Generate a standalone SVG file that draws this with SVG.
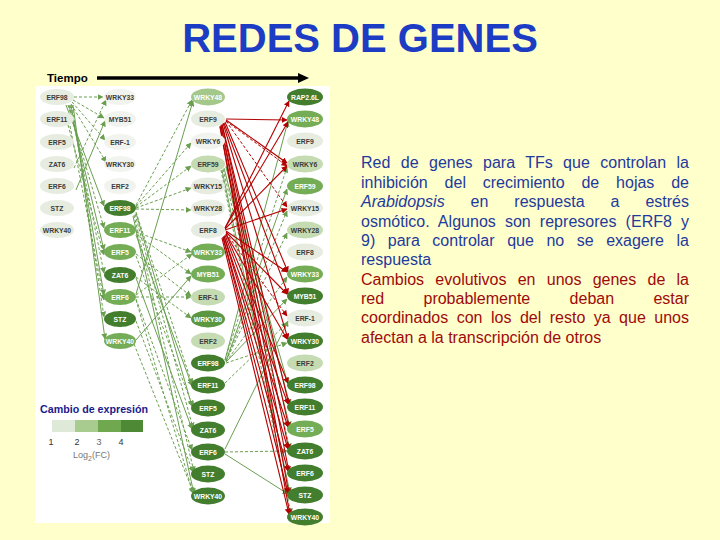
<svg xmlns="http://www.w3.org/2000/svg" width="720" height="540" viewBox="0 0 720 540">
<defs>
<style>
.nt{font-family:"Liberation Sans",Arial,sans-serif;font-size:6.8px;font-weight:bold;text-anchor:middle}
.k{fill:#3c3c3c}.w{fill:#ffffff}
.vl{fill:#e6ece0}.wh{fill:#f1f4ee}.l{fill:#c5dbb2}.lm{fill:#a4c78a}.m{fill:#74ad55}.md{fill:#5a9740}.d{fill:#437e2e}
.gs{stroke:#6a9f50;stroke-width:1;fill:none;marker-end:url(#ag)}
.gd{stroke:#6a9f50;stroke-width:1;stroke-dasharray:3 2;fill:none;marker-end:url(#ag)}
.rs{stroke:#b30000;stroke-width:1.1;fill:none;marker-end:url(#ar)}
.rd{stroke:#b30000;stroke-width:1;stroke-dasharray:3 2;fill:none;marker-end:url(#ar)}
.body{font-family:"Liberation Sans",Arial,sans-serif;font-size:16px}
.blue{fill:#1e3a9c}.red{fill:#9e0a0a}
</style>
<marker id="ag" viewBox="0 0 10 10" refX="9" refY="5" markerWidth="6" markerHeight="6" markerUnits="userSpaceOnUse" orient="auto"><path d="M0,0 L10,5 L0,10 z" fill="#6a9f50"/></marker>
<marker id="ar" viewBox="0 0 10 10" refX="9" refY="5" markerWidth="6" markerHeight="6" markerUnits="userSpaceOnUse" orient="auto"><path d="M0,0 L10,5 L0,10 z" fill="#b30000"/></marker>
<marker id="arb" viewBox="0 0 10 10" refX="9" refY="5" markerWidth="10" markerHeight="10" markerUnits="userSpaceOnUse" orient="auto"><path d="M0,0 L10,5 L0,10 z" fill="#c00000"/></marker>
</defs>
<rect x="0" y="0" width="720" height="540" fill="#ffffcc"/>
<text x="360" y="52" text-anchor="middle" font-family="Liberation Sans, Arial, sans-serif" font-size="40" font-weight="bold" fill="#1c3cc4">REDES DE GENES</text>
<g id="tiempo">
<text x="47" y="82" font-family="Liberation Sans, Arial, sans-serif" font-size="11.5" font-weight="bold" fill="#000">Tiempo</text>
<line x1="97" y1="78" x2="300" y2="78" stroke="#000" stroke-width="3.5"/>
<polygon points="298,73 309,78 298,83" fill="#000"/>
</g>
<rect x="35" y="86" width="295" height="437" fill="#ffffff"/>
<g id="connectors">
<line class="gd" x1="74" y1="97" x2="103" y2="97"/>
<line class="gd" x1="73" y1="100" x2="104" y2="118"/>
<line class="gd" x1="72" y1="102" x2="105" y2="140"/>
<line class="gd" x1="71" y1="104" x2="106" y2="162"/>
<line class="gs" x1="66" y1="105" x2="104" y2="206"/>
<line class="gd" x1="68" y1="105" x2="104" y2="228"/>
<line class="gs" x1="69" y1="105" x2="104" y2="250"/>
<line class="gd" x1="70" y1="105" x2="104" y2="273"/>
<line class="gs" x1="71" y1="105" x2="104" y2="295"/>
<line class="gd" x1="72" y1="105" x2="104" y2="317"/>
<line class="gs" x1="73" y1="105" x2="105" y2="339"/>
<line class="gd" x1="68" y1="125" x2="104" y2="255"/>
<line class="gd" x1="70" y1="126" x2="104" y2="300"/>
<line class="gs" x1="76" y1="190" x2="105" y2="121"/>
<line class="gd" x1="74" y1="168" x2="106" y2="100"/>
<line class="gd" x1="136" y1="205" x2="192" y2="100"/>
<line class="gd" x1="136" y1="206" x2="191" y2="143"/>
<line class="gd" x1="136" y1="207" x2="191" y2="166"/>
<line class="gd" x1="136" y1="208" x2="191" y2="188"/>
<line class="gd" x1="136" y1="209" x2="191" y2="210"/>
<line class="gd" x1="136" y1="212" x2="192" y2="384"/>
<line class="gs" x1="136" y1="213" x2="192" y2="406"/>
<line class="gd" x1="135" y1="214" x2="193" y2="428"/>
<line class="gd" x1="134" y1="215" x2="194" y2="472"/>
<line class="gs" x1="133" y1="216" x2="194" y2="494"/>
<line class="gs" x1="136" y1="294" x2="193" y2="101"/>
<line class="gd" x1="136" y1="295" x2="192" y2="254"/>
<line class="gd" x1="136" y1="297" x2="191" y2="297"/>
<line class="gd" x1="136" y1="299" x2="192" y2="450"/>
<line class="gd" x1="136" y1="300" x2="193" y2="493"/>
<line class="gd" x1="136" y1="232" x2="191" y2="252"/>
<line class="gd" x1="136" y1="234" x2="191" y2="274"/>
<line class="gs" x1="136" y1="235" x2="192" y2="386"/>
<line class="gd" x1="136" y1="254" x2="191" y2="296"/>
<line class="gd" x1="136" y1="256" x2="193" y2="407"/>
<line class="gd" x1="136" y1="277" x2="191" y2="318"/>
<line class="gs" x1="136" y1="278" x2="192" y2="429"/>
<line class="gd" x1="136" y1="321" x2="193" y2="472"/>
<line class="gd" x1="134" y1="344" x2="194" y2="494"/>
<line class="gs" x1="136" y1="340" x2="191" y2="276"/>
<line class="gs" x1="226" y1="167" x2="290" y2="405"/>
<line class="gs" x1="224" y1="168" x2="290" y2="427"/>
<line class="gd" x1="223" y1="169" x2="290" y2="449"/>
<line class="gs" x1="222" y1="170" x2="290" y2="493"/>
<line class="gd" x1="221" y1="170" x2="291" y2="514"/>
<line class="gs" x1="226" y1="166" x2="288" y2="384"/>
<line class="gs" x1="225" y1="360" x2="288" y2="121"/>
<line class="gd" x1="225" y1="360" x2="287" y2="167"/>
<line class="gs" x1="226" y1="361" x2="287" y2="189"/>
<line class="gd" x1="226" y1="361" x2="287" y2="211"/>
<line class="gd" x1="226" y1="361" x2="287" y2="233"/>
<line class="gd" x1="226" y1="362" x2="287" y2="277"/>
<line class="gs" x1="226" y1="362" x2="287" y2="299"/>
<line class="gd" x1="226" y1="363" x2="287" y2="343"/>
<line class="gd" x1="225" y1="452" x2="287" y2="451"/>
<line class="gs" x1="225" y1="454" x2="288" y2="494"/>
<line class="gs" x1="225" y1="449" x2="288" y2="321"/>
<line class="gd" x1="225" y1="383" x2="287" y2="323"/>
<line class="rs" x1="226" y1="119" x2="287" y2="120" stroke-width="1.8" marker-end="url(#arb)"/>
<line class="rs" x1="226" y1="120" x2="287" y2="163"/>
<line class="rd" x1="226" y1="121" x2="287" y2="166"/>
<line class="rd" x1="226" y1="121" x2="287" y2="207"/>
<line class="rs" x1="225" y1="122" x2="288" y2="272"/>
<line class="rs" x1="224" y1="123" x2="288" y2="294"/>
<line class="rs" x1="223" y1="123" x2="288" y2="339"/>
<line class="rs" x1="222" y1="124" x2="289" y2="405"/>
<line class="rs" x1="222" y1="125" x2="289" y2="428"/>
<line class="rs" x1="221" y1="125" x2="289" y2="450"/>
<line class="rs" x1="221" y1="126" x2="289" y2="472"/>
<line class="rs" x1="220" y1="126" x2="289" y2="494"/>
<line class="rs" x1="220" y1="127" x2="290" y2="515"/>
<line class="rs" x1="225" y1="228" x2="289" y2="101"/>
<line class="rs" x1="225" y1="228" x2="288" y2="122"/>
<line class="rs" x1="225" y1="229" x2="287" y2="166"/>
<line class="rs" x1="225" y1="230" x2="287" y2="209"/>
<line class="rs" x1="226" y1="231" x2="287" y2="272"/>
<line class="rs" x1="226" y1="232" x2="287" y2="294"/>
<line class="rd" x1="226" y1="233" x2="287" y2="316"/>
<line class="rs" x1="226" y1="234" x2="287" y2="339"/>
<line class="rs" x1="226" y1="234" x2="288" y2="383"/>
<line class="rs" x1="225" y1="235" x2="288" y2="404"/>
<line class="rs" x1="224" y1="236" x2="288" y2="427"/>
<line class="rs" x1="224" y1="236" x2="288" y2="449"/>
<line class="rs" x1="223" y1="237" x2="288" y2="471"/>
<line class="rs" x1="223" y1="237" x2="288" y2="493"/>
<line class="rs" x1="222" y1="238" x2="289" y2="514"/>
</g>
<g id="c1-erf98"><ellipse cx="57" cy="97" rx="17" ry="8" class="vl"/><text x="57" y="99.5" class="nt k">ERF98</text></g>
<g id="c1-erf11"><ellipse cx="57" cy="119" rx="17" ry="8" class="vl"/><text x="57" y="121.5" class="nt k">ERF11</text></g>
<g id="c1-erf5"><ellipse cx="57" cy="142" rx="17" ry="8" class="vl"/><text x="57" y="144.5" class="nt k">ERF5</text></g>
<g id="c1-zat6"><ellipse cx="57" cy="164" rx="17" ry="8" class="vl"/><text x="57" y="166.5" class="nt k">ZAT6</text></g>
<g id="c1-erf6"><ellipse cx="57" cy="186" rx="17" ry="8" class="vl"/><text x="57" y="188.5" class="nt k">ERF6</text></g>
<g id="c1-stz"><ellipse cx="57" cy="208" rx="17" ry="8" class="vl"/><text x="57" y="210.5" class="nt k">STZ</text></g>
<g id="c1-wrky40"><ellipse cx="57" cy="230" rx="17" ry="8" class="vl"/><text x="57" y="232.5" class="nt k">WRKY40</text></g>
<g id="c2-wrky33"><ellipse cx="120" cy="97" rx="16" ry="8" class="wh"/><text x="120" y="99.5" class="nt k">WRKY33</text></g>
<g id="c2-myb51"><ellipse cx="120" cy="119" rx="16" ry="8" class="wh"/><text x="120" y="121.5" class="nt k">MYB51</text></g>
<g id="c2-erf-1"><ellipse cx="120" cy="142" rx="16" ry="8" class="wh"/><text x="120" y="144.5" class="nt k">ERF-1</text></g>
<g id="c2-wrky30"><ellipse cx="120" cy="164" rx="16" ry="8" class="wh"/><text x="120" y="166.5" class="nt k">WRKY30</text></g>
<g id="c2-erf2"><ellipse cx="120" cy="186" rx="16" ry="8" class="wh"/><text x="120" y="188.5" class="nt k">ERF2</text></g>
<g id="c2-erf98"><ellipse cx="120" cy="208" rx="16" ry="8" class="d"/><text x="120" y="210.5" class="nt w">ERF98</text></g>
<g id="c2-erf11"><ellipse cx="120" cy="230" rx="16" ry="8" class="m"/><text x="120" y="232.5" class="nt w">ERF11</text></g>
<g id="c2-erf5"><ellipse cx="120" cy="252" rx="16" ry="8" class="m"/><text x="120" y="254.5" class="nt w">ERF5</text></g>
<g id="c2-zat6"><ellipse cx="120" cy="275" rx="16" ry="8" class="d"/><text x="120" y="277.5" class="nt w">ZAT6</text></g>
<g id="c2-erf6"><ellipse cx="120" cy="297" rx="16" ry="8" class="m"/><text x="120" y="299.5" class="nt w">ERF6</text></g>
<g id="c2-stz"><ellipse cx="120" cy="319" rx="16" ry="8" class="d"/><text x="120" y="321.5" class="nt w">STZ</text></g>
<g id="c2-wrky40"><ellipse cx="120" cy="341" rx="16" ry="8" class="m"/><text x="120" y="343.5" class="nt w">WRKY40</text></g>
<g id="c3-wrky48"><ellipse cx="208" cy="97" rx="17" ry="8.5" class="lm"/><text x="208" y="99.5" class="nt w">WRKY48</text></g>
<g id="c3-erf9"><ellipse cx="208" cy="119" rx="17" ry="8.5" class="vl"/><text x="208" y="121.5" class="nt k">ERF9</text></g>
<g id="c3-wrky6"><ellipse cx="208" cy="141" rx="17" ry="8.5" class="wh"/><text x="208" y="143.5" class="nt k">WRKY6</text></g>
<g id="c3-erf59"><ellipse cx="208" cy="164" rx="17" ry="8.5" class="l"/><text x="208" y="166.5" class="nt k">ERF59</text></g>
<g id="c3-wrky15"><ellipse cx="208" cy="186" rx="17" ry="8.5" class="vl"/><text x="208" y="188.5" class="nt k">WRKY15</text></g>
<g id="c3-wrky28"><ellipse cx="208" cy="208" rx="17" ry="8.5" class="vl"/><text x="208" y="210.5" class="nt k">WRKY28</text></g>
<g id="c3-erf8"><ellipse cx="208" cy="230" rx="17" ry="8.5" class="vl"/><text x="208" y="232.5" class="nt k">ERF8</text></g>
<g id="c3-wrky33"><ellipse cx="208" cy="252" rx="17" ry="8.5" class="m"/><text x="208" y="254.5" class="nt w">WRKY33</text></g>
<g id="c3-myb51"><ellipse cx="208" cy="274" rx="17" ry="8.5" class="m"/><text x="208" y="276.5" class="nt w">MYB51</text></g>
<g id="c3-erf-1"><ellipse cx="208" cy="297" rx="17" ry="8.5" class="l"/><text x="208" y="299.5" class="nt k">ERF-1</text></g>
<g id="c3-wrky30"><ellipse cx="208" cy="319" rx="17" ry="8.5" class="md"/><text x="208" y="321.5" class="nt w">WRKY30</text></g>
<g id="c3-erf2"><ellipse cx="208" cy="341" rx="17" ry="8.5" class="l"/><text x="208" y="343.5" class="nt k">ERF2</text></g>
<g id="c3-erf98"><ellipse cx="208" cy="363" rx="17" ry="8.5" class="d"/><text x="208" y="365.5" class="nt w">ERF98</text></g>
<g id="c3-erf11"><ellipse cx="208" cy="385" rx="17" ry="8.5" class="d"/><text x="208" y="387.5" class="nt w">ERF11</text></g>
<g id="c3-erf5"><ellipse cx="208" cy="408" rx="17" ry="8.5" class="d"/><text x="208" y="410.5" class="nt w">ERF5</text></g>
<g id="c3-zat6"><ellipse cx="208" cy="430" rx="17" ry="8.5" class="d"/><text x="208" y="432.5" class="nt w">ZAT6</text></g>
<g id="c3-erf6"><ellipse cx="208" cy="452" rx="17" ry="8.5" class="d"/><text x="208" y="454.5" class="nt w">ERF6</text></g>
<g id="c3-stz"><ellipse cx="208" cy="474" rx="17" ry="8.5" class="d"/><text x="208" y="476.5" class="nt w">STZ</text></g>
<g id="c3-wrky40"><ellipse cx="208" cy="496" rx="17" ry="8.5" class="d"/><text x="208" y="498.5" class="nt w">WRKY40</text></g>
<g id="c4-rap26l"><ellipse cx="305" cy="97" rx="18" ry="8.5" class="d"/><text x="305" y="99.5" class="nt w">RAP2.6L</text></g>
<g id="c4-wrky48"><ellipse cx="305" cy="119" rx="18" ry="8.5" class="m"/><text x="305" y="121.5" class="nt w">WRKY48</text></g>
<g id="c4-erf9"><ellipse cx="305" cy="141" rx="18" ry="8.5" class="vl"/><text x="305" y="143.5" class="nt k">ERF9</text></g>
<g id="c4-wrky6"><ellipse cx="305" cy="164" rx="18" ry="8.5" class="l"/><text x="305" y="166.5" class="nt k">WRKY6</text></g>
<g id="c4-erf59"><ellipse cx="305" cy="186" rx="18" ry="8.5" class="m"/><text x="305" y="188.5" class="nt w">ERF59</text></g>
<g id="c4-wrky15"><ellipse cx="305" cy="208" rx="18" ry="8.5" class="vl"/><text x="305" y="210.5" class="nt k">WRKY15</text></g>
<g id="c4-wrky28"><ellipse cx="305" cy="230" rx="18" ry="8.5" class="l"/><text x="305" y="232.5" class="nt k">WRKY28</text></g>
<g id="c4-erf8"><ellipse cx="305" cy="252" rx="18" ry="8.5" class="vl"/><text x="305" y="254.5" class="nt k">ERF8</text></g>
<g id="c4-wrky33"><ellipse cx="305" cy="274" rx="18" ry="8.5" class="m"/><text x="305" y="276.5" class="nt w">WRKY33</text></g>
<g id="c4-myb51"><ellipse cx="305" cy="296" rx="18" ry="8.5" class="d"/><text x="305" y="298.5" class="nt w">MYB51</text></g>
<g id="c4-erf-1"><ellipse cx="305" cy="318" rx="18" ry="8.5" class="vl"/><text x="305" y="320.5" class="nt k">ERF-1</text></g>
<g id="c4-wrky30"><ellipse cx="305" cy="341" rx="18" ry="8.5" class="d"/><text x="305" y="343.5" class="nt w">WRKY30</text></g>
<g id="c4-erf2"><ellipse cx="305" cy="363" rx="18" ry="8.5" class="l"/><text x="305" y="365.5" class="nt k">ERF2</text></g>
<g id="c4-erf98"><ellipse cx="305" cy="385" rx="18" ry="8.5" class="d"/><text x="305" y="387.5" class="nt w">ERF98</text></g>
<g id="c4-erf11"><ellipse cx="305" cy="407" rx="18" ry="8.5" class="d"/><text x="305" y="409.5" class="nt w">ERF11</text></g>
<g id="c4-erf5"><ellipse cx="305" cy="429" rx="18" ry="8.5" class="m"/><text x="305" y="431.5" class="nt w">ERF5</text></g>
<g id="c4-zat6"><ellipse cx="305" cy="451" rx="18" ry="8.5" class="d"/><text x="305" y="453.5" class="nt w">ZAT6</text></g>
<g id="c4-erf6"><ellipse cx="305" cy="473" rx="18" ry="8.5" class="d"/><text x="305" y="475.5" class="nt w">ERF6</text></g>
<g id="c4-stz"><ellipse cx="305" cy="495" rx="18" ry="8.5" class="d"/><text x="305" y="497.5" class="nt w">STZ</text></g>
<g id="c4-wrky40"><ellipse cx="305" cy="517" rx="18" ry="8.5" class="d"/><text x="305" y="519.5" class="nt w">WRKY40</text></g>
<g id="legend" font-family="Liberation Sans, Arial, sans-serif">
<text x="40" y="413" font-size="10.7" font-weight="bold" fill="#1a1a8c">Cambio de expresión</text>
<rect x="52" y="420" width="23" height="12" fill="#dfe9d8"/>
<rect x="75" y="420" width="23" height="12" fill="#a8cb90"/>
<rect x="98" y="420" width="23" height="12" fill="#6fa84f"/>
<rect x="121" y="420" width="22" height="12" fill="#4e8a36"/>
<text x="51" y="445" font-size="9" fill="#333" text-anchor="middle">1</text>
<text x="77" y="445" font-size="9" fill="#333" text-anchor="middle">2</text>
<text x="99" y="445" font-size="9" fill="#666" text-anchor="middle">3</text>
<text x="121" y="445" font-size="9" fill="#333" text-anchor="middle">4</text>
<text x="73" y="458" font-size="9" fill="#777">Log<tspan font-size="7" dy="3">2</tspan><tspan dy="-3">(FC)</tspan></text>
</g>
<g id="description" class="body">
<text x="361" y="168" class="blue" word-spacing="5.9" textLength="328" lengthAdjust="spacing">Red de genes para TFs que controlan la</text>
<text x="361" y="188" class="blue" word-spacing="12.4" textLength="328" lengthAdjust="spacing">inhibición del crecimiento de hojas de</text>
<text x="361" y="207" class="blue" word-spacing="21.5" textLength="328" lengthAdjust="spacing"><tspan font-style="italic">Arabidopsis</tspan> en respuesta a estrés</text>
<text x="361" y="227" class="blue" word-spacing="4.6" textLength="328" lengthAdjust="spacing">osmótico. Algunos son represores (ERF8 y</text>
<text x="361" y="246" class="blue" word-spacing="8.1" textLength="328" lengthAdjust="spacing">9) para controlar que no se exagere la</text>
<text x="361" y="265" class="blue">respuesta</text>
<text x="361" y="285" class="red" word-spacing="6.8" textLength="328" lengthAdjust="spacing">Cambios evolutivos en unos genes de la</text>
<text x="361" y="304" class="red" word-spacing="34.9" textLength="328" lengthAdjust="spacing">red probablemente deban estar</text>
<text x="361" y="323" class="red" word-spacing="4" textLength="328" lengthAdjust="spacing">coordinados con los del resto ya que unos</text>
<text x="361" y="343" class="red">afectan a la transcripción de otros</text>
</g>
</svg>
